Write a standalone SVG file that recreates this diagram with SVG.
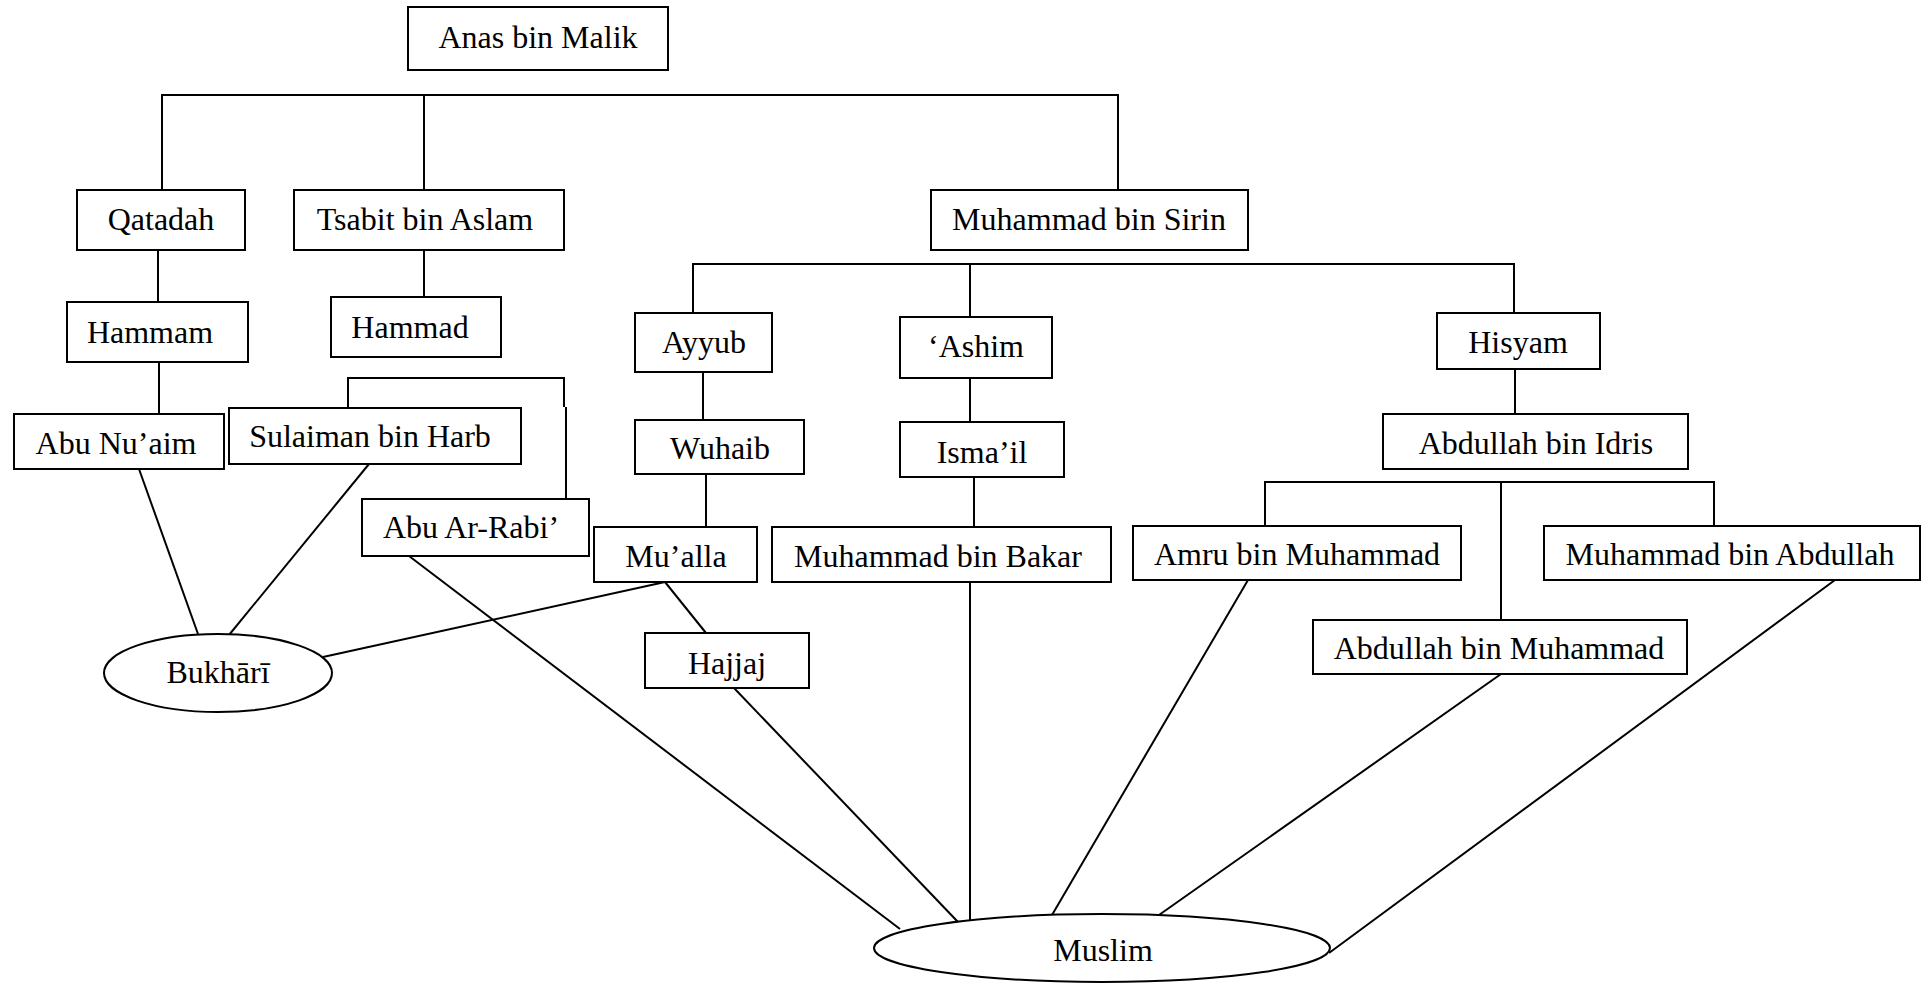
<svg xmlns="http://www.w3.org/2000/svg" width="1931" height="984" viewBox="0 0 1931 984">
<style>
rect, ellipse { fill: #ffffff; stroke: #000000; stroke-width: 2; }
.c line, .c path, .c polyline { fill: none; stroke: #000000; stroke-width: 2; }
text { font-family: "Liberation Serif", "Times New Roman", serif; font-size: 32px; fill: #000000; text-anchor: middle; }
</style>
<rect x="0" y="0" width="1931" height="984" style="fill:#ffffff;stroke:none"/>
<g class="c" id="connectors">
  <path d="M162,190 V95 H1118 V190 M424,95 V190"/>
  <line x1="158" y1="250" x2="158" y2="302"/>
  <line x1="424" y1="250" x2="424" y2="297"/>
  <line x1="159" y1="362" x2="159" y2="414"/>
  <path d="M348,408 V378 H564 V407 M566,407 V499"/>
  <path d="M693,313 V264 H1514 V313 M970,264 V317"/>
  <line x1="703" y1="372" x2="703" y2="420"/>
  <line x1="706" y1="474" x2="706" y2="527"/>
  <line x1="970" y1="378" x2="970" y2="422"/>
  <line x1="974" y1="477" x2="974" y2="527"/>
  <line x1="1515" y1="369" x2="1515" y2="414"/>
  <path d="M1265,526 V482 H1714 V526 M1501,482 V620"/>
  <line x1="139" y1="469" x2="198" y2="634"/>
  <line x1="369" y1="464" x2="229" y2="635"/>
  <line x1="665" y1="582" x2="323" y2="657"/>
  <line x1="665" y1="582" x2="706" y2="633"/>
  <line x1="409" y1="556" x2="900" y2="929"/>
  <line x1="734" y1="688" x2="958" y2="922"/>
  <line x1="970" y1="582" x2="970" y2="921"/>
  <line x1="1248" y1="580" x2="1052" y2="915"/>
  <line x1="1501" y1="674" x2="1159" y2="915"/>
  <line x1="1835" y1="580" x2="1329" y2="953"/>
</g>
<g id="anas"><rect x="408" y="7" width="260" height="63"/><text x="538" y="48">Anas bin Malik</text></g>
<g id="qatadah"><rect x="77" y="190" width="168" height="60"/><text x="161" y="230">Qatadah</text></g>
<g id="tsabit"><rect x="294" y="190" width="270" height="60"/><text x="425" y="230">Tsabit bin Aslam</text></g>
<g id="sirin"><rect x="931" y="190" width="317" height="60"/><text x="1089" y="230">Muhammad bin Sirin</text></g>
<g id="hammam"><rect x="67" y="302" width="181" height="60"/><text x="150" y="343">Hammam</text></g>
<g id="hammad"><rect x="331" y="297" width="170" height="60"/><text x="410" y="338">Hammad</text></g>
<g id="ayyub"><rect x="635" y="313" width="137" height="59"/><text x="704" y="353">Ayyub</text></g>
<g id="ashim"><rect x="900" y="317" width="152" height="61"/><text x="976" y="357">‘Ashim</text></g>
<g id="hisyam"><rect x="1437" y="313" width="163" height="56"/><text x="1518" y="353">Hisyam</text></g>
<g id="abunuaim"><rect x="14" y="414" width="210" height="55"/><text x="116" y="454">Abu Nu’aim</text></g>
<g id="sulaiman"><rect x="229" y="408" width="292" height="56"/><text x="370" y="447">Sulaiman bin Harb</text></g>
<g id="wuhaib"><rect x="635" y="420" width="169" height="54"/><text x="720" y="459">Wuhaib</text></g>
<g id="ismail"><rect x="900" y="422" width="164" height="55"/><text x="982" y="463">Isma’il</text></g>
<g id="idris"><rect x="1383" y="414" width="305" height="55"/><text x="1536" y="454">Abdullah bin Idris</text></g>
<g id="abuarrabi"><rect x="362" y="499" width="227" height="57"/><text x="471" y="538">Abu Ar-Rabi’</text></g>
<g id="mualla"><rect x="594" y="527" width="163" height="55"/><text x="676" y="567">Mu’alla</text></g>
<g id="bakar"><rect x="772" y="527" width="339" height="55"/><text x="938" y="567">Muhammad bin Bakar</text></g>
<g id="amru"><rect x="1133" y="526" width="328" height="54"/><text x="1297" y="565">Amru bin Muhammad</text></g>
<g id="mbabdullah"><rect x="1544" y="526" width="376" height="54"/><text x="1730" y="565">Muhammad bin Abdullah</text></g>
<g id="hajjaj"><rect x="645" y="633" width="164" height="55"/><text x="727" y="674">Hajjaj</text></g>
<g id="abmuhammad"><rect x="1313" y="620" width="374" height="54"/><text x="1499" y="659">Abdullah bin Muhammad</text></g>
<g id="bukhari"><ellipse cx="218" cy="673" rx="114" ry="39"/><text x="218" y="683">Bukhārī</text></g>
<g id="muslim"><ellipse cx="1102" cy="948" rx="228" ry="34"/><text x="1103" y="961">Muslim</text></g>
</svg>
